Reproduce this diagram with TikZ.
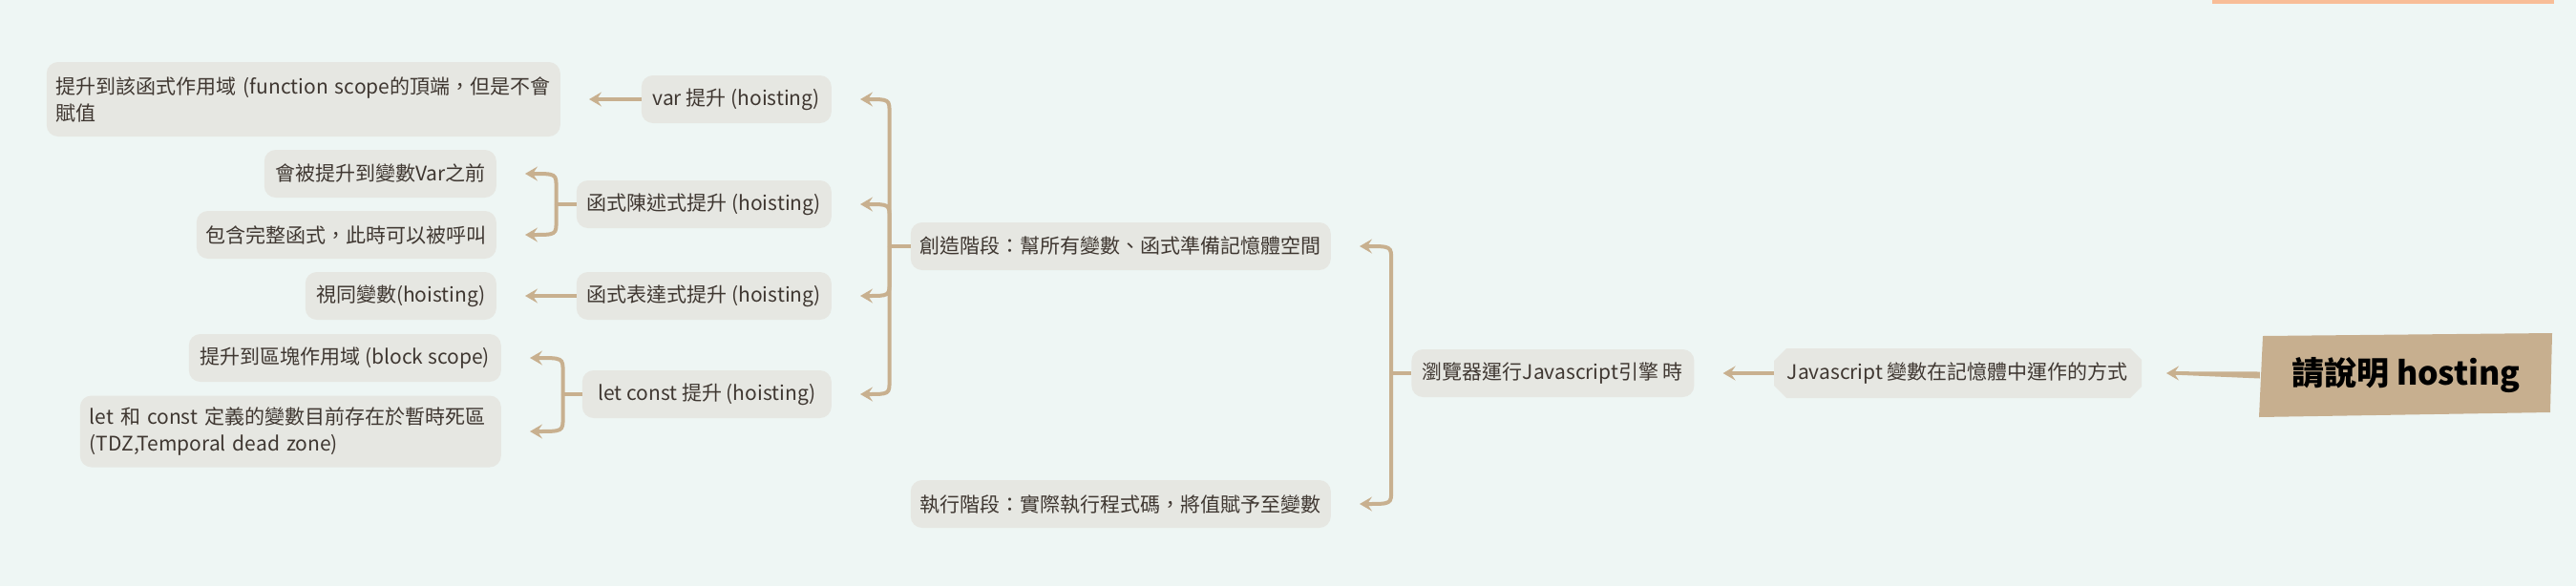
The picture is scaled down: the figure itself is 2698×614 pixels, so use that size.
\documentclass[tikz,border=0pt]{standalone}
\usepackage{fontspec}
\setmainfont{Noto Sans CJK TC}
\usetikzlibrary{arrows.meta,positioning,calc}
\definecolor{bgmint}{HTML}{EEF6F4}
\definecolor{topicfill}{HTML}{E6E7E2}
\definecolor{linktan}{HTML}{C8B08F}
\definecolor{rootfill}{HTML}{C7AF8F}
\definecolor{inktext}{HTML}{3F3731}
\definecolor{barorange}{HTML}{F8BD97}
\tikzset{
    topic/.style = {
        fill = topicfill,
        rounded corners = 12pt,
        text = inktext,
        font = \fontsize{21}{28}\selectfont,
        minimum height = 50pt,
        inner xsep = 10pt,
        inner ysep = 0pt,
        anchor = east,
        },
    note/.style = {
        align = left,
        },
    root text/.style = {
        font = \fontsize{34}{40}\selectfont\bfseries,
        text = black,
        minimum width = 306pt,
        minimum height = 86pt,
        },
    stub/.style = {
        draw = linktan,
        line width = 4pt,
        },
    link/.style = {
        stub,
        -{Stealth[length=13pt,width=15pt,inset=5pt]},
        },
    arm/.style = {
        to path = {let \p1 = (\tikztostart), \p2 = (\tikztotarget) in
            -- (\x1,{\y2+15*sign((\y1)-(\y2))})
            .. controls (\x1,\y2) .. ({\x2+30},\y2)},
        },
}

\begin{document}
\begin{tikzpicture}[x=1pt,y=-1pt]
    \useasboundingbox (0,0) rectangle (2698,614);
    \fill[bgmint] (0,0) rectangle (2698,614);
    \fill[barorange] (2317,0) rectangle (2675,4);

    % root
    \fill[rootfill] (2370,352) -- (2673,349) -- (2671,432) -- (2366,437) -- cycle;
    \node[root text] (root) at (2520,393) {請說明 hosting};

    % chamfered box behind the memory topic
    \fill[topicfill] (1871,365) -- (2231,365) -- (2243,377) -- (2243,405) -- (2231,417)
        -- (1871,417) -- (1858,404) -- (1858,378) -- cycle;
    \node[topic, fill=none, minimum width=385pt] (jsmem) at (2243,391) {Javascript 變數在記憶體中運作的方式};
    \node[topic, minimum width=296pt, left=83pt of jsmem] (engine) {瀏覽器運行Javascript引擎 時};

    \node[topic, minimum width=437pt] (create) at (1394,258) {創造階段：幫所有變數、函式準備記憶體空間};
    \node[topic, minimum width=437pt] (exec) at (1394,528) {執行階段：實際執行程式碼，將值賦予至變數};

    \node[topic, minimum width=199pt] (var) at (871,104) {var 提升 (hoisting)};
    \node[topic, minimum width=267pt] (fdecl) at (871,214) {函式陳述式提升 (hoisting)};
    \node[topic, minimum width=267pt] (fexpr) at (871,310) {函式表達式提升 (hoisting)};
    \node[topic, minimum width=261pt] (letc) at (871,413) {let const 提升 (hoisting)};

    \node[topic, note, text width=518pt, minimum height=78pt] (varnote) at (587,104) {提升到該函式作用域 (function scope的頂端，但是不會\\賦值};
    \node[topic, minimum width=243pt] (hoistfirst) at (520,182) {會被提升到變數Var之前};
    \node[topic, minimum width=313pt] (whole) at (520,246) {包含完整函式，此時可以被呼叫};
    \node[topic, minimum width=200pt] (asvar) at (520,310) {視同變數(hoisting)};
    \node[topic, minimum width=327pt] (block) at (525,375) {提升到區塊作用域 (block scope)};
    \node[topic, note, text width=421pt, minimum height=75pt] (tdz) at (525,452) {let 和 const 定義的變數目前存在於暫時死區\\(TDZ,Temporal dead zone)};

    % spine
    \fill[linktan] ([yshift=-3.5pt]root.west) -- ([xshift=38pt,yshift=-1.8pt]jsmem.east)
        -- ([xshift=38pt,yshift=1.8pt]jsmem.east) -- ([yshift=3.5pt]root.west) -- cycle;
    \draw[link] ([xshift=40pt]jsmem.east) -- ([xshift=26pt]jsmem.east);
    \draw[link] (jsmem.west) -- ([xshift=30pt]engine.east);

    % braces
    \coordinate (jeng) at ([xshift=-21pt]engine.west);
    \draw[stub] (engine.west) -- (jeng);
    \foreach \kid in {create,exec}
        \draw[link] (jeng) to[arm] (\kid.east);

    \coordinate (jcre) at ([xshift=-22pt]create.west);
    \draw[stub] (create.west) -- (jcre);
    \foreach \kid in {var,fdecl,fexpr,letc}
        \draw[link] (jcre) to[arm] (\kid.east);

    \draw[link] (var.west) -- ([xshift=30pt]varnote.east);

    \coordinate (jfd) at ([xshift=-21pt]fdecl.west);
    \draw[stub] (fdecl.west) -- (jfd);
    \foreach \kid in {hoistfirst,whole}
        \draw[link] (jfd) to[arm] (\kid.east);

    \draw[link] (fexpr.west) -- ([xshift=30pt]asvar.east);

    \coordinate (jlc) at ([xshift=-20pt]letc.west);
    \draw[stub] (letc.west) -- (jlc);
    \foreach \kid in {block,tdz}
        \draw[link] (jlc) to[arm] (\kid.east);
\end{tikzpicture}
\end{document}
